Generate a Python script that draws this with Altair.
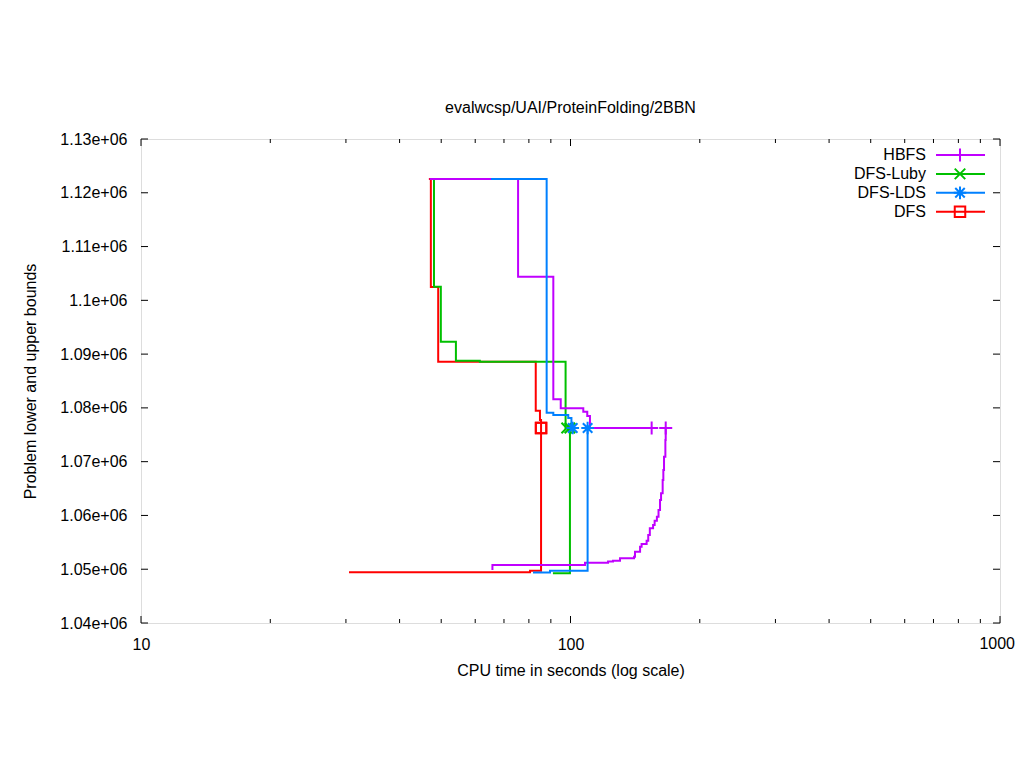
import altair as alt
import pandas as pd

FONT = "Liberation Sans"
SERIES = ["HBFS", "DFS-Luby", "DFS-LDS", "DFS"]
COLORS = ["#c000ff", "#00c000", "#0080ff", "#ff0000"]

# upper bound (UB) and lower bound (LB) step curves: time (s), value
HBFS_UB_T = [47.0, 75.5, 91.2, 94.9, 107.1, 109.4, 111.0, 154.5]
HBFS_UB_V = [1122570, 1104400, 1081600, 1079930, 1079290, 1078500, 1076263, 1076263]
HBFS_LB_T = [65.8, 65.8, 108.1, 122.3, 125.6, 130.4, 140.6, 141.3, 145.2, 146.4, 150.4,
             151.7, 153.0, 155.7, 157.0, 158.9, 160.3, 161.6, 162.5, 163.9, 164.5,
             165.1, 166.3, 166.6]
HBFS_LB_V = [1049860, 1050790, 1051200, 1051440, 1051590, 1052030, 1052330, 1053260,
             1054190, 1054690, 1055310, 1056370, 1057610, 1058230, 1059030, 1059770,
             1061020, 1062880, 1064120, 1066590, 1068450, 1070930, 1074030, 1076263]

LUBY_UB_T = [47.7, 48.1, 49.9, 54.1, 61.5, 97.4, 98.0]
LUBY_UB_V = [1122570, 1102540, 1092310, 1088750, 1088590, 1076263, 1076263]
LUBY_LB_T = [91.0, 99.7]
LUBY_LB_V = [1049250, 1076263]

LDS_UB_T = [65.3, 88.0, 91.2, 98.8, 100.5, 101.2]
LDS_UB_V = [1122570, 1079110, 1078680, 1078120, 1076263, 1076263]
LDS_LB_T = [81.8, 89.6, 109.6]
LDS_LB_V = [1049400, 1049730, 1076263]

DFS_UB_T = [46.8, 47.3, 49.2, 83.0, 84.9, 85.4]
DFS_UB_V = [1122570, 1102480, 1088590, 1079480, 1077750, 1076263]
DFS_LB_T = [30.5, 80.5, 85.4]
DFS_LB_V = [1049430, 1049730, 1076263]

X_MAJOR = [10, 100, 1000]
X_MINOR = [20, 30, 40, 50, 60, 70, 80, 90, 200, 300, 400, 500, 600, 700, 800, 900]
Y_TICKS = [1040000, 1050000, 1060000, 1070000, 1080000, 1090000, 1100000,
           1110000, 1120000, 1130000]

DATA = {
    "HBFS": (HBFS_UB_T, HBFS_UB_V, HBFS_LB_T, HBFS_LB_V),
    "DFS-Luby": (LUBY_UB_T, LUBY_UB_V, LUBY_LB_T, LUBY_LB_V),
    "DFS-LDS": (LDS_UB_T, LDS_UB_V, LDS_LB_T, LDS_LB_V),
    "DFS": (DFS_UB_T, DFS_UB_V, DFS_LB_T, DFS_LB_V),
}

SHAPES = {
    "HBFS": "M-1,0L1,0M0,-1L0,1",
    "DFS-Luby": "M-1,-1L1,1M-1,1L1,-1",
    "DFS-LDS": "M-1,0L1,0M0,-1L0,1M-0.75,-0.75L0.75,0.75M-0.75,0.75L0.75,-0.75",
    "DFS": "square",
}
SIZES = {"HBFS": 170, "DFS-Luby": 110, "DFS-LDS": 160, "DFS": 110}

W, H = 859, 484

xscale = alt.Scale(type="log", domain=[10, 1000], nice=False)
yscale = alt.Scale(domain=[1040000, 1130000], nice=False, zero=False)

# the last x label (1000) sits at the canvas edge, so it is drawn as a text layer
xaxis = alt.Axis(values=X_MAJOR,
                 labelExpr="datum.value >= 1000 ? '' : format(datum.value, 'd')",
                 ticks=False, tickSize=0, domain=False, grid=False, labelPadding=13,
                 labelFlush=False,
                 labelFontSize=16, labelFont=FONT, labelColor="black",
                 title="CPU time in seconds (log scale)", titleFontSize=16,
                 titleFont=FONT, titleFontWeight="normal", titleColor="black",
                 titleX=W / 2, titleY=47, titleBaseline="middle", titleAnchor="middle")
yaxis = alt.Axis(values=Y_TICKS, labelExpr="format(datum.value/1000000, '.3~g') + 'e+06'",
                 ticks=False, tickSize=0, domain=False, grid=False, labelPadding=14,
                 labelFlush=False,
                 labelFontSize=16, labelFont=FONT, labelColor="black",
                 title="Problem lower and upper bounds", titleFontSize=16,
                 titleFont=FONT, titleFontWeight="normal", titleColor="black",
                 titleX=-111, titleY=H / 2, titleAngle=270, titleBaseline="middle",
                 titleAlign="center")


def X(field):
    return alt.X(f"{field}:Q", scale=xscale, axis=xaxis)


def Y(field):
    return alt.Y(f"{field}:Q", scale=yscale, axis=yaxis)


layers = []

# inward ticks on all four borders
xmaj = pd.DataFrame({"t": X_MAJOR})
xmin = pd.DataFrame({"t": X_MINOR})
yt = pd.DataFrame({"v": Y_TICKS})
tick = dict(color="black", strokeWidth=1)
layers.append(alt.Chart(xmaj).mark_rule(**tick).encode(x=X("t"), y=alt.value(H), y2=alt.value(H - 7)))
layers.append(alt.Chart(xmaj).mark_rule(**tick).encode(x=X("t"), y=alt.value(0), y2=alt.value(7)))
layers.append(alt.Chart(xmin).mark_rule(**tick).encode(x=X("t"), y=alt.value(H), y2=alt.value(H - 4)))
layers.append(alt.Chart(xmin).mark_rule(**tick).encode(x=X("t"), y=alt.value(0), y2=alt.value(4)))
layers.append(alt.Chart(yt).mark_rule(**tick).encode(y=Y("v"), x=alt.value(0), x2=alt.value(7)))
layers.append(alt.Chart(yt).mark_rule(**tick).encode(y=Y("v"), x=alt.value(W), x2=alt.value(W - 7)))

# last x tick label, kept inside the canvas
last = pd.DataFrame({"t": [X_MAJOR[-1]], "lab": [str(X_MAJOR[-1])]})
layers.append(alt.Chart(last).mark_text(align="right", baseline="top", dx=15, fontSize=16,
                                        font=FONT, color="black", clip=False)
              .encode(x=X("t"), y=alt.value(H + 13), text="lab:N"))

# series, drawn in the stacking order of the reference
for name in ["DFS", "DFS-Luby", "HBFS", "DFS-LDS"]:
    ub_t, ub_v, lb_t, lb_v = DATA[name]
    color = COLORS[SERIES.index(name)]
    rows = []
    for i, (t, v) in enumerate(zip(ub_t, ub_v)):
        rows.append({"t": t, "v": v, "bound": "UB", "i": i})
    for i, (t, v) in enumerate(zip(lb_t, lb_v)):
        rows.append({"t": t, "v": v, "bound": "LB", "i": i})
    df = pd.DataFrame(rows)
    ends = pd.DataFrame({"t": [ub_t[-1], lb_t[-1]], "v": [ub_v[-1], lb_v[-1]]})
    layers.append(
        alt.Chart(df).mark_line(interpolate="step-after", color=color, strokeWidth=2, clip=True)
        .encode(x=X("t"), y=Y("v"), detail="bound:N", order="i:Q")
    )
    layers.append(
        alt.Chart(ends).mark_point(shape=SHAPES[name], size=SIZES[name], filled=False,
                                   color=color, strokeWidth=2, opacity=1)
        .encode(x=X("t"), y=Y("v"))
    )

# key (top right, text left of the sample line)
one = pd.DataFrame({"k": [0]})
for idx, name in enumerate(SERIES):
    ly = 16 + idx * 18.9
    color = COLORS[idx]
    layers.append(alt.Chart(one).mark_text(text=name, align="right", baseline="middle",
                                            fontSize=16, font=FONT, color="black")
                  .encode(x=alt.value(785), y=alt.value(ly)))
    layers.append(alt.Chart(one).mark_rule(color=color, strokeWidth=2)
                  .encode(x=alt.value(795), x2=alt.value(844), y=alt.value(ly)))
    layers.append(alt.Chart(one).mark_point(shape=SHAPES[name], size=SIZES[name], filled=False,
                                            color=color, strokeWidth=2, opacity=1)
                  .encode(x=alt.value(819), y=alt.value(ly)))

chart = alt.layer(*layers).properties(
    width=W, height=H,
    title=alt.TitleParams("evalwcsp/UAI/ProteinFolding/2BBN", fontSize=16, font=FONT,
                          fontWeight="normal", color="black", anchor="middle",
                          frame="group", baseline="alphabetic", offset=2),
    autosize=alt.AutoSizeParams(type="none"),
    padding={"left": 133, "top": 131, "right": 16, "bottom": 137},
).configure_view(stroke="black", strokeWidth=1).configure(background="white")

chart.save("out.html", embed_options={"renderer": "svg", "actions": False})
